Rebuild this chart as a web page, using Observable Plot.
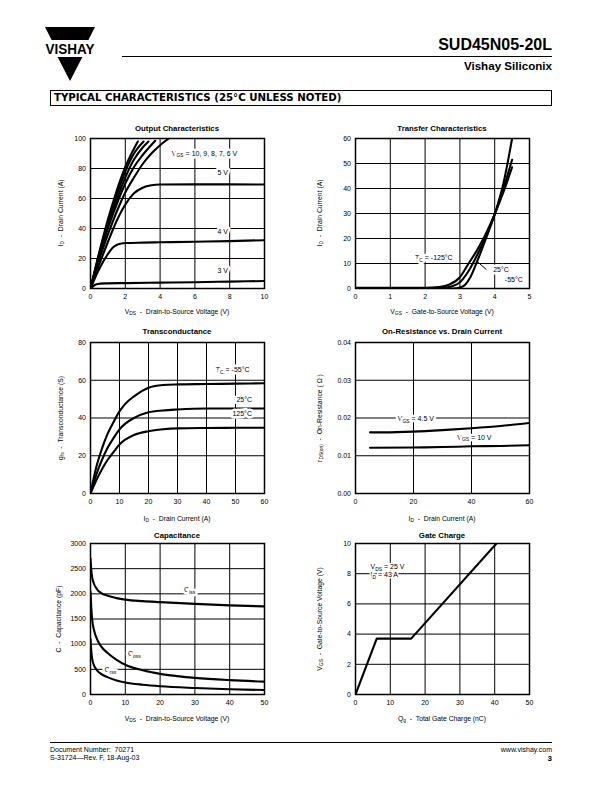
<!DOCTYPE html>
<html><head><meta charset="utf-8">
<script src="https://cdn.jsdelivr.net/npm/d3@7"></script>
<script src="https://cdn.jsdelivr.net/npm/@observablehq/plot@0.6"></script>
<style>
body{margin:0;background:#fff}
#page{position:relative;width:612px;height:792px;overflow:hidden;font-family:"Liberation Sans",Arial,sans-serif;color:#000;background:#fff}
.abs{position:absolute;white-space:nowrap;line-height:1}
.ctr{transform:translate(-50%,-50%)}
.rot{transform:translate(-50%,-50%) rotate(-90deg)}
.ctitle{font-weight:bold;font-size:7.8px}
.atitle{font-size:6.8px}
sub{font-size:72%;vertical-align:-0.35em;line-height:0}
.chart{position:absolute}
</style></head>
<body><div id="page">
<svg class="abs" style="left:40px;top:23px" width="60" height="62">
  <polygon points="5,4 55,4 48.4,17 11.6,17" fill="#000"/>
  <polygon points="17.6,34 42.4,34 30,58" fill="#000"/>
  <text x="30" y="31" text-anchor="middle" font-family="Liberation Sans" font-weight="bold" font-size="14" textLength="49" lengthAdjust="spacingAndGlyphs">VISHAY</text>
</svg>
<div class="abs" style="right:60px;top:37px;font-weight:bold;font-size:16px">SUD45N05-20L</div>
<div class="abs" style="left:122px;top:55.5px;width:430px;height:0;border-top:1.2px solid #000"></div>
<div class="abs" style="right:60px;top:60px;font-weight:bold;font-size:11.6px">Vishay Siliconix</div>
<div class="abs" style="left:50px;top:90px;width:500px;height:14px;border:1px solid #000"></div>
<div class="abs" style="left:54px;top:92.5px;font-family:'DejaVu Sans';font-weight:bold;font-size:10.2px">TYPICAL CHARACTERISTICS (25°C UNLESS NOTED)</div>

<div id="c1" class="chart"></div><div id="c2" class="chart"></div>
<div id="c3" class="chart"></div><div id="c4" class="chart"></div>
<div id="c5" class="chart"></div><div id="c6" class="chart"></div>

<div class="abs ctr ctitle" style="left:177px;top:128.5px">Output Characteristics</div>
<div class="abs ctr atitle" style="left:177px;top:312px">V<sub>DS</sub> &nbsp;- &nbsp;Drain-to-Source Voltage (V)</div>
<div class="abs rot atitle" style="left:61px;top:213px">I<sub>D</sub> &nbsp;- &nbsp;Drain Current (A)</div>

<div class="abs ctr ctitle" style="left:442px;top:128.5px">Transfer Characteristics</div>
<div class="abs ctr atitle" style="left:442px;top:312px">V<sub>GS</sub> &nbsp;- &nbsp;Gate-to-Source Voltage (V)</div>
<div class="abs rot atitle" style="left:320px;top:213px">I<sub>D</sub> &nbsp;- &nbsp;Drain Current (A)</div>

<div class="abs ctr ctitle" style="left:177px;top:332px">Transconductance</div>
<div class="abs ctr atitle" style="left:177px;top:519px">I<sub>D</sub> &nbsp;- &nbsp;Drain Current (A)</div>
<div class="abs rot atitle" style="left:61px;top:417.5px">g<sub>fs</sub> &nbsp;- &nbsp;Transconductance (S)</div>

<div class="abs ctr ctitle" style="left:442px;top:332px">On-Resistance vs. Drain Current</div>
<div class="abs ctr atitle" style="left:442px;top:519px">I<sub>D</sub> &nbsp;- &nbsp;Drain Current (A)</div>
<div class="abs rot atitle" style="left:320px;top:417.5px">r<sub>DS(on)</sub> &nbsp;- &nbsp;On-Resistance ( Ω )</div>

<div class="abs ctr ctitle" style="left:177px;top:535.5px">Capacitance</div>
<div class="abs ctr atitle" style="left:177px;top:719px">V<sub>DS</sub> &nbsp;- &nbsp;Drain-to-Source Voltage (V)</div>
<div class="abs rot atitle" style="left:59px;top:618.5px">C &nbsp;- &nbsp;Capacitance (pF)</div>

<div class="abs ctr ctitle" style="left:442px;top:535.5px">Gate Charge</div>
<div class="abs ctr atitle" style="left:442px;top:719px">Q<sub>g</sub> &nbsp;- &nbsp;Total Gate Charge (nC)</div>
<div class="abs rot atitle" style="left:320px;top:618.5px">V<sub>GS</sub> &nbsp;- &nbsp;Gate-to-Source Voltage (V)</div>

<div class="abs" style="left:50px;top:741.5px;width:502px;height:0;border-top:1.2px solid #000"></div>
<div class="abs" style="left:50px;top:745.5px;font-size:7px">Document Number: &nbsp;70271</div>
<div class="abs" style="left:50px;top:753.5px;font-size:7px">S-31724—Rev. F, 18-Aug-03</div>
<div class="abs" style="right:60px;top:745.5px;font-size:7px">www.vishay.com</div>
<div class="abs" style="right:60px;top:755px;font-size:8px;font-weight:bold">3</div>
</div>
<script>
// ---------- Output Characteristics (VDS V, ID A) ----------
const outX = [0, 2, 4, 6, 8, 10];
const outY = [0, 20, 40, 60, 80, 100];
const out10V = [[0,0],[0.5,24],[1,46],[1.5,65],[2,81],[2.4,91],[2.72,98]];
const out9V  = [[0,0],[0.5,23],[1,44],[1.5,62],[2,78],[2.5,90],[3.05,98]];
const out8V  = [[0,0],[0.5,22],[1,42],[1.5,59],[2,74],[2.5,86],[3,94],[3.33,98]];
const out7V  = [[0,0],[0.5,21],[1,40],[1.5,56],[2,70],[2.5,81],[3,89],[3.72,98.5]];
const out6V  = [[0,0],[0.5,19],[1,36],[1.5,51],[2,64],[2.5,74],[3,83],[3.5,90],[4,95.5],[4.5,100]];
const out5V  = [[0,0],[0.5,16],[1,31],[1.5,45],[2,56],[2.5,63.5],[3,67.2],[3.5,68.8],[4,69.3],[6,69.4],[8,69.4],[10,69.3]];
const out4V  = [[0,0],[0.5,13],[1,23],[1.3,27.5],[1.6,29.5],[2,30.3],[3,30.6],[4,30.8],[6,31.2],[8,31.6],[10,32.2]];
const out3V  = [[0,0],[0.2,2],[0.4,3],[0.8,3.4],[2,3.6],[4,3.9],[6,4.2],[8,4.6],[10,5]];
const outLabels = [
  {t:"V_{GS} = 10, 9, 8, 7, 6 V", x:6.55, y:90},
  {t:"5 V", x:7.6, y:77},
  {t:"4 V", x:7.6, y:38},
  {t:"3 V", x:7.6, y:12}
];
// ---------- Transfer Characteristics (VGS V, ID A) ----------
const trX = [0, 1, 2, 3, 4, 5];
const trY = [0, 10, 20, 30, 40, 50, 60];
const tr125 = [[0,0.3],[1,0.3],[2,0.3],[2.4,0.6],[2.7,1.6],[3,4.5],[3.25,10],[3.5,15.5],[3.75,22],[4,29.7],[4.25,38.5],[4.5,48.5]];
const tr25  = [[0,0.2],[2,0.2],[2.5,0.3],[2.8,1],[3,2.5],[3.25,7],[3.5,13.5],[3.75,21],[4,29.7],[4.25,40],[4.5,51.5]];
const trM55 = [[0,0],[2.8,0],[3,0.4],[3.15,1.5],[3.3,4.5],[3.5,11],[3.75,20],[4,29.7],[4.25,42],[4.5,60]];
const trLabels = [
  {t:"T_{C} = -125°C", x:2.25, y:12.3},
  {t:"25°C", x:4.18, y:7.5},
  {t:"-55°C", x:4.55, y:3.4}
];
const trPointer = [{x1:3.47, y1:11.1, x2:3.76, y2:7.6}];
// ---------- Transconductance (ID A, gfs S) ----------
const gfsX = [0, 10, 20, 30, 40, 50, 60];
const gfsY = [0, 20, 40, 60, 80];
const gfsM55 = [[0,0],[2,14],[4,24],[6,32],[8,38],[10,43.5],[12,47.5],[15,51.5],[20,56],[25,57.5],[30,57.8],[40,58],[50,58.2],[60,58.4]];
const gfs25  = [[0,0],[2,10],[4,18],[6,24.5],[8,29.5],[10,34],[12,37],[15,40],[20,43],[25,44],[30,44.5],[40,45],[50,45],[60,45]];
const gfs125 = [[0,0],[2,7],[4,13],[6,18],[8,22],[10,26],[12,28.5],[15,31],[20,33],[25,34],[30,34.5],[40,34.7],[50,34.8],[60,34.8]];
const gfsLabels = [
  {t:"T_{C} = -55°C", x:49, y:65.5},
  {t:"25°C", x:53, y:49.6},
  {t:"125°C", x:52.3, y:42.2}
];
// ---------- On-Resistance vs Drain Current (ID A, rDS(on) ohm) ----------
const ronX = [0, 20, 40, 60];
const ronY = [0, 0.01, 0.02, 0.03, 0.04];
const ron45V = [[5,0.0162],[10,0.0162],[20,0.0164],[30,0.0168],[40,0.0173],[50,0.0179],[60,0.0187]];
const ron10V = [[5,0.0121],[20,0.0122],[30,0.0123],[40,0.0125],[50,0.0126],[60,0.0128]];
const ronLabels = [
  {t:"V_{GS} = 4.5 V", x:20.8, y:0.0198},
  {t:"V_{GS} = 10 V", x:41, y:0.0148}
];
// ---------- Capacitance (VDS V, C pF) ----------
const capX = [0, 10, 20, 30, 40, 50];
const capY = [0, 500, 1000, 1500, 2000, 2500, 3000];
const ciss = [[0,2700],[0.25,2450],[0.5,2320],[1,2200],[2,2080],[3,2020],[5,1960],[7.5,1915],[10,1885],[15,1855],[20,1835],[30,1800],[40,1770],[50,1750]];
const coss = [[0,2050],[0.25,1700],[0.5,1480],[1,1280],[2,1080],[3,960],[5,820],[7.5,690],[10,590],[15,480],[20,410],[25,365],[30,330],[40,285],[50,255]];
const crss = [[0,1100],[0.25,850],[0.5,700],[1,580],[2,470],[3,410],[5,340],[7.5,280],[10,240],[15,195],[20,165],[30,130],[40,105],[50,88]];
const capLabels = [
  {t:"C_{iss}", x:28.5, y:2073},
  {t:"C_{oss}", x:12.6, y:801},
  {t:"C_{rss}", x:5.7, y:483}
];
// ---------- Gate Charge (Qg nC, VGS V) ----------
const gcX = [0, 10, 20, 30, 40, 50];
const gcY = [0, 2, 4, 6, 8, 10];
const gateCharge = [[0,0],[6.1,3.7],[16,3.7],[40.5,10]];
const gcLabels = [
  {t:"I_{D} = 43 A", x:4.3, y:7.9, a:"start"},
  {t:"V_{DS} = 25 V", x:4.3, y:8.45, a:"start"}
];

function applySubs(svg) {
  svg.querySelectorAll("text").forEach(el => {
    const s = el.textContent;
    if (!s.includes("_{")) return;
    const parts = s.split(/_\{([^}]*)\}/);
    el.textContent = "";
    let shifted = false;
    parts.forEach((p, i) => {
      if (p === "") return;
      const ts = document.createElementNS("http://www.w3.org/2000/svg", "tspan");
      ts.textContent = p;
      if (i % 2 === 1) { ts.setAttribute("dy", "1.6"); ts.setAttribute("font-size", "5"); shifted = true; }
      else if (shifted) { ts.setAttribute("dy", "-1.6"); shifted = false; }
      el.appendChild(ts);
    });
  });
}

function chart(id, {left, top, h, xd, yd, xt, yt, yfmt, series, labels, curve = "monotone-x", extra = []}) {
  const ml = 32, mr = 8, mt = 6, mb = 16, w = 174;
  const textOpts = {x: "x", y: "y", text: "t", fontSize: 7, fill: "#000", stroke: "#fff"};
  const marks = [
    Plot.gridX(xt, {stroke: "#000", strokeOpacity: 1, strokeWidth: 1}),
    Plot.gridY(yt, {stroke: "#000", strokeOpacity: 1, strokeWidth: 1}),
    Plot.axisX(xt, {tickSize: 0, tickPadding: 6, label: null, fontSize: 7}),
    Plot.axisY(yt, {tickSize: 0, tickPadding: 4.5, label: null, fontSize: 7, tickFormat: yfmt}),
    ...series.map(s => Plot.line(s, {x: d => d[0], y: d => d[1], stroke: "#000", strokeWidth: 2.1, curve, clip: true})),
    ...extra,
    Plot.text(labels.filter(d => !d.a), {...textOpts, strokeWidth: 5, textAnchor: "middle"}),
    Plot.text(labels.filter(d => d.a === "start"), {...textOpts, strokeWidth: 3, textAnchor: "start"}),
    Plot.frame({stroke: "#000", strokeWidth: 1.5})
  ];
  const svg = Plot.plot({
    width: w + ml + mr, height: h + mt + mb,
    marginLeft: ml, marginRight: mr, marginTop: mt, marginBottom: mb,
    x: {domain: xd}, y: {domain: yd},
    style: {fontFamily: "Liberation Sans, Arial, sans-serif", fontSize: "7px", color: "#000", background: "transparent", overflow: "visible"},
    marks
  });
  applySubs(svg);
  const div = document.getElementById(id);
  div.style.left = (left - ml) + "px";
  div.style.top = (top - mt) + "px";
  div.appendChild(svg);
}

chart("c1", {left: 90, top: 138, h: 150, xd: [0, 10], yd: [0, 100], xt: outX, yt: outY,
  series: [out10V, out9V, out8V, out7V, out6V, out5V, out4V, out3V], labels: outLabels});
chart("c2", {left: 355, top: 138, h: 150, xd: [0, 5], yd: [0, 60], xt: trX, yt: trY,
  series: [tr125, tr25, trM55], labels: trLabels,
  extra: [Plot.link(trPointer, {x1: "x1", y1: "y1", x2: "x2", y2: "y2", stroke: "#000", strokeWidth: 1})]});
chart("c3", {left: 90, top: 342, h: 151, xd: [0, 60], yd: [0, 80], xt: gfsX, yt: gfsY,
  series: [gfsM55, gfs25, gfs125], labels: gfsLabels});
chart("c4", {left: 355, top: 342, h: 151, xd: [0, 60], yd: [0, 0.04], xt: ronX, yt: ronY, yfmt: d3.format(".2f"),
  series: [ron45V, ron10V], labels: ronLabels});
chart("c5", {left: 90, top: 543, h: 151, xd: [0, 50], yd: [0, 3000], xt: capX, yt: capY, yfmt: d => String(d),
  series: [ciss, coss, crss], labels: capLabels});
chart("c6", {left: 355, top: 543, h: 151, xd: [0, 50], yd: [0, 10], xt: gcX, yt: gcY,
  series: [gateCharge], labels: gcLabels, curve: "linear"});
</script>
</body></html>
